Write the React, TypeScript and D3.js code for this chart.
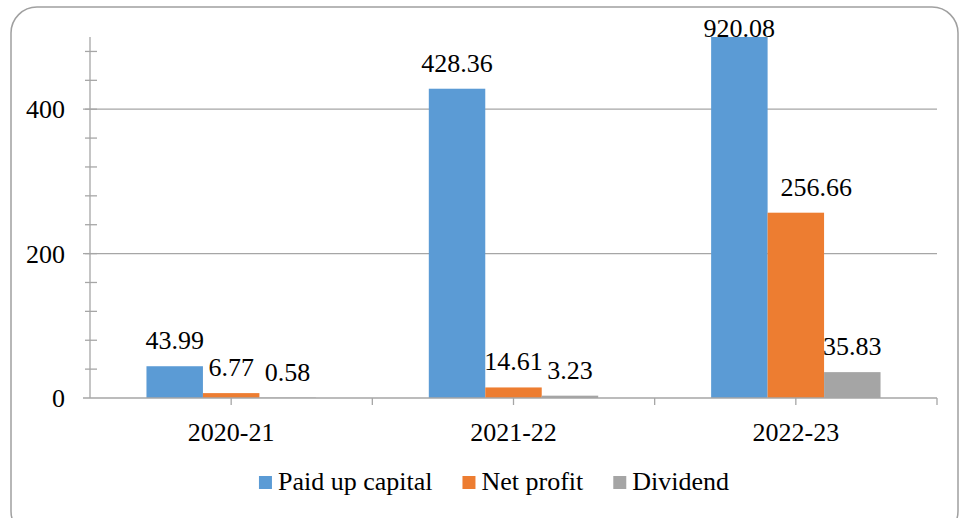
import { useEffect, useRef } from 'react';
import * as d3 from 'd3';

const categories = ['2020-21', '2021-22', '2022-23'];
const seriesNames = ['Paid up capital', 'Net profit', 'Dividend'];
const seriesColors = ['#5B9BD5', '#ED7D31', '#A5A5A5'];
const paidUpCapital = [43.99, 428.36, 920.08];
const netProfit = [6.77, 14.61, 256.66];
const dividend = [0.58, 3.23, 35.83];
const yTicks = [0, 200, 400];

export default function App() {
  const ref = useRef<SVGSVGElement | null>(null);

  useEffect(() => {
    const W = 961;
    const H = 518;
    const svg = d3.select(ref.current);
    svg.selectAll('*').remove();

    const axisColor = '#a6a6a6';

    // outer frame
    svg.append('rect')
      .attr('x', 11)
      .attr('y', 7)
      .attr('width', 947)
      .attr('height', 530)
      .attr('rx', 26)
      .attr('fill', 'white')
      .attr('stroke', '#a0a0a0')
      .attr('stroke-width', 1.5);

    const left = 90, right = 937, top = 37, bottom = 398;
    const yMax = 500;

    const x0 = d3.scaleBand().domain(categories).range([left, right]).paddingInner(0).paddingOuter(0);
    const step = x0.bandwidth();
    const barW = step / 5;
    const x1 = d3.scaleBand().domain(seriesNames).range([0, barW * 3]);

    const y = d3.scaleLinear().domain([0, yMax]).range([bottom, top]);

    // gridlines
    svg.append('g')
      .selectAll('line')
      .data(yTicks.filter(d => d > 0))
      .enter().append('line')
      .attr('x1', left - 7)
      .attr('x2', right)
      .attr('y1', d => y(d))
      .attr('y2', d => y(d))
      .attr('stroke', axisColor)
      .attr('stroke-width', 1.3);

    // minor ticks on value axis
    svg.append('g')
      .selectAll('line')
      .data(d3.range(40, yMax, 40))
      .enter().append('line')
      .attr('x1', left - 5)
      .attr('x2', left + 7)
      .attr('y1', d => y(d))
      .attr('y2', d => y(d))
      .attr('stroke', axisColor)
      .attr('stroke-width', 1.3);

    // value axis line
    svg.append('line')
      .attr('x1', left).attr('x2', left)
      .attr('y1', top).attr('y2', bottom)
      .attr('stroke', axisColor)
      .attr('stroke-width', 1.3);

    // value axis labels
    svg.append('g')
      .selectAll('text')
      .data(yTicks)
      .enter().append('text')
      .attr('x', 65)
      .attr('y', d => y(d))
      .attr('dy', '0.35em')
      .attr('text-anchor', 'end')
      .attr('class', 'lbl')
      .text(d => d);

    // bars
    const rows = categories.map((c, i) => ({
      cat: c,
      values: [paidUpCapital[i], netProfit[i], dividend[i]]
    }));

    const groups = svg.append('g')
      .selectAll('g')
      .data(rows)
      .enter().append('g')
      .attr('transform', d => `translate(${x0(d.cat)! + (step - barW * 3) / 2},0)`);

    groups.selectAll('rect')
      .data(d => d.values.map((v, j) => ({ v, j })))
      .enter().append('rect')
      .attr('x', d => x1(seriesNames[d.j])!)
      .attr('width', x1.bandwidth())
      .attr('y', d => y(Math.min(d.v, yMax)))
      .attr('height', d => bottom - y(Math.min(d.v, yMax)))
      .attr('fill', d => seriesColors[d.j]);

    // data labels; nudge right when a label would run into a taller bar on its left
    groups.each(function (row) {
      const g = d3.select(this);
      row.values.forEach((v, j) => {
        const cx = x1(seriesNames[j])! + x1.bandwidth() / 2;
        const ly = Math.max(y(Math.min(v, yMax)) - 17, top);
        const t = g.append('text')
          .attr('class', 'lbl')
          .attr('x', cx)
          .attr('y', ly)
          .attr('text-anchor', 'middle')
          .text(v.toFixed(2));
        if (j > 0) {
          const w = (t.node() as SVGTextElement).getComputedTextLength();
          const prevTop = y(Math.min(row.values[j - 1], yMax));
          const prevRight = x1(seriesNames[j - 1])! + x1.bandwidth();
          if (prevTop < ly - 20 && cx - w / 2 < prevRight - 2) {
            t.attr('x', Math.max(cx, prevRight + 13 + w / 2));
          }
        }
      });
    });

    // category axis
    svg.append('line')
      .attr('x1', left - 7).attr('x2', right)
      .attr('y1', bottom).attr('y2', bottom)
      .attr('stroke', axisColor)
      .attr('stroke-width', 1.3);

    svg.append('g')
      .selectAll('line')
      .data(d3.range(1, categories.length * 2 + 1))
      .enter().append('line')
      .attr('x1', d => left + (step / 2) * d)
      .attr('x2', d => left + (step / 2) * d)
      .attr('y1', bottom)
      .attr('y2', bottom + 7)
      .attr('stroke', axisColor)
      .attr('stroke-width', 1.3);

    svg.append('g')
      .selectAll('text')
      .data(categories)
      .enter().append('text')
      .attr('x', d => x0(d)! + step / 2)
      .attr('y', 441)
      .attr('text-anchor', 'middle')
      .attr('class', 'lbl')
      .text(d => d);

    // legend
    const legend = svg.append('g');
    let cx = 0;
    seriesNames.forEach((name, i) => {
      const item = legend.append('g').attr('transform', `translate(${cx},0)`);
      item.append('rect')
        .attr('x', 0).attr('y', -14)
        .attr('width', 13).attr('height', 13)
        .attr('fill', seriesColors[i]);
      const t = item.append('text')
        .attr('x', 19).attr('y', 0)
        .attr('class', 'lbl')
        .text(name);
      const w = (t.node() as SVGTextElement).getComputedTextLength();
      cx += 19 + w + 30;
    });
    const totalW = cx - 30;
    legend.attr('transform', `translate(${494 - totalW / 2},490)`);

    svg.attr('width', W).attr('height', H);
  }, []);

  return (
    <div style={{ position: 'fixed', left: 0, top: 0, width: 961, height: 518, background: 'white' }}>
      <style>{`.lbl { font-family: 'Liberation Serif', 'DejaVu Serif', serif; font-size: 26px; fill: #000; }`}</style>
      <svg ref={ref} width={961} height={518} style={{ display: 'block' }} />
    </div>
  );
}
